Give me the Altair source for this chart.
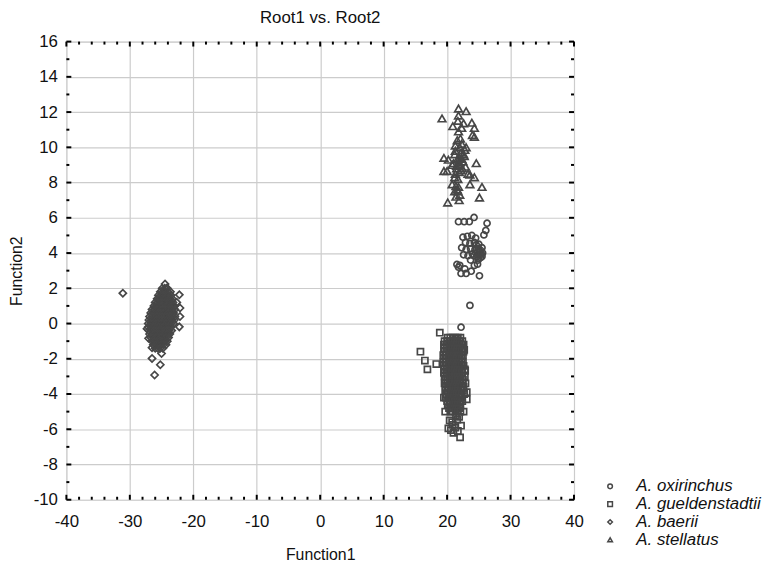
import altair as alt
import pandas as pd

species = ["A. oxirinchus", "A. gueldenstadtii", "A. baerii", "A. stellatus"]
shapes = ["circle", "square", "diamond", "triangle-up"]

# ---- A. oxirinchus (circles)
oxi_x = [21.8, 22.7, 23.5, 24.25, 26.3, 26.1, 25.8, 22.5, 23.2, 23.9, 24.5, 22.9, 23.6, 24.3,
         25.0, 22.3, 23.0, 23.7, 24.4, 25.1, 25.6, 22.6, 23.3, 24.0, 24.7, 25.3, 25.5, 24.9,
         23.7, 25.2, 24.8, 21.55, 21.8, 22.2, 23.0, 23.8, 25.1, 24.8, 23.6, 22.2, 22.0, 24.3,
         25.4, 24.6, 25.0, 24.2, 22.8, 25.3, 24.9, 25.5, 24.5]
oxi_y = [5.78, 5.78, 5.78, 6.02, 5.69, 5.28, 5.03, 4.9, 4.95, 5.0, 4.85, 4.6, 4.55, 4.6,
         4.5, 4.3, 4.2, 4.25, 4.2, 4.1, 4.0, 3.9, 3.85, 3.95, 3.8, 3.75, 4.3, 3.6,
         3.6, 3.9, 4.05, 3.35, 3.2, 2.84, 2.84, 2.97, 2.71, 3.37, 1.03, -0.21, 3.3, 3.3,
         3.95, 4.45, 3.7, 3.85, 3.1, 4.15, 4.25, 3.8, 4.0]

# ---- A. gueldenstadtii (squares): scattered points
gue_x = [18.85, 21.55, 15.8, 16.5, 16.9, 18.3, 22.7, 22.85, 23.1, 23.1, 22.6, 19.7, 22.2, 22.05,
         21.0, 20.2, 19.5, 20.4, 21.6, 20.9, 21.9, 20.6, 21.3, 21.7, 20.8, 21.4]
gue_y = [-0.52, -0.84, -1.6, -2.1, -2.6, -2.3, -1.5, -2.68, -3.9, -4.3, -5.0, -5.0, -5.8, -6.46,
         -6.2, -5.95, -4.2, -5.5, -5.45, -5.75, -5.3, -6.05, -5.9, -6.1, -5.6, -5.2]
# dense core, one list of Function1 values per Function2 row
gue_core_y = [-0.8, -1.0, -1.2, -1.4, -1.6, -1.8, -2.0, -2.2, -2.4, -2.6, -2.8, -3.0,
              -3.2, -3.4, -3.6, -3.8, -4.0, -4.2, -4.4, -4.6, -4.8, -5.0]
gue_core_x = [
    [20.1, 20.5, 20.9, 21.3, 21.7, 22.1],
    [19.6, 20.0, 20.4, 20.8, 21.2, 21.6, 22.0, 22.4],
    [19.5, 19.9, 20.3, 20.7, 21.1, 21.5, 21.9, 22.3, 22.6],
    [19.6, 20.0, 20.4, 20.8, 21.2, 21.6, 22.0, 22.4],
    [19.5, 19.9, 20.3, 20.7, 21.1, 21.5, 21.9, 22.3, 22.6],
    [19.4, 19.8, 20.2, 20.6, 21.0, 21.4, 21.8, 22.2, 22.5],
    [19.5, 19.9, 20.3, 20.7, 21.1, 21.5, 21.9, 22.3],
    [19.4, 19.8, 20.2, 20.6, 21.0, 21.4, 21.8, 22.2, 22.5],
    [19.5, 19.9, 20.3, 20.7, 21.1, 21.5, 21.9, 22.3, 22.6],
    [19.6, 20.0, 20.4, 20.8, 21.2, 21.6, 22.0, 22.4, 22.8],
    [19.5, 19.9, 20.3, 20.7, 21.1, 21.5, 21.9, 22.3],
    [19.6, 20.0, 20.4, 20.8, 21.2, 21.6, 22.0, 22.4, 22.8],
    [19.7, 20.1, 20.5, 20.9, 21.3, 21.7, 22.1, 22.5],
    [19.6, 20.0, 20.4, 20.8, 21.2, 21.6, 22.0, 22.4, 22.9],
    [19.8, 20.2, 20.6, 21.0, 21.4, 21.8, 22.2, 22.6],
    [19.7, 20.1, 20.5, 20.9, 21.3, 21.7, 22.1, 22.5],
    [19.9, 20.3, 20.7, 21.1, 21.5, 21.9, 22.3, 22.7],
    [19.8, 20.2, 20.6, 21.0, 21.4, 21.8, 22.2],
    [20.0, 20.4, 20.8, 21.2, 21.6, 22.0, 22.4],
    [20.1, 20.5, 20.9, 21.3, 21.7, 22.1],
    [20.3, 20.7, 21.1, 21.5, 21.9],
    [20.5, 20.9, 21.3, 21.7, 22.1],
]

# ---- A. baerii (diamonds): scattered points
bae_x = [-31.1, -24.45, -24.2, -22.2, -22.1, -22.1, -22.2, -27.05, -26.5, -26.5, -25.2,
         -26.1, -25.0, -27.3, -22.6]
bae_y = [1.72, 2.24, 2.0, 1.63, 0.88, 0.4, -0.19, -0.84, -1.37, -1.98, -2.34,
         -2.92, -1.7, -0.3, 1.2]
bae_core_y = [2.0, 1.8, 1.6, 1.4, 1.2, 1.0, 0.8, 0.6, 0.4, 0.2, 0.0, -0.2, -0.4, -0.6,
              -0.8, -1.0, -1.2, -1.4]
bae_core_x = [
    [-24.9, -24.5, -24.1],
    [-25.2, -24.8, -24.4, -24.0, -23.6],
    [-25.5, -25.1, -24.7, -24.3, -23.9, -23.5],
    [-25.7, -25.3, -24.9, -24.5, -24.1, -23.7, -23.3],
    [-26.0, -25.6, -25.2, -24.8, -24.4, -24.0, -23.6, -23.2],
    [-26.2, -25.8, -25.4, -25.0, -24.6, -24.2, -23.8, -23.4, -23.0],
    [-26.5, -26.1, -25.7, -25.3, -24.9, -24.5, -24.1, -23.7, -23.3, -22.9],
    [-26.7, -26.3, -25.9, -25.5, -25.1, -24.7, -24.3, -23.9, -23.5, -23.1],
    [-26.9, -26.5, -26.1, -25.7, -25.3, -24.9, -24.5, -24.1, -23.7, -23.3, -22.9],
    [-27.0, -26.6, -26.2, -25.8, -25.4, -25.0, -24.6, -24.2, -23.8, -23.4, -23.0],
    [-27.1, -26.7, -26.3, -25.9, -25.5, -25.1, -24.7, -24.3, -23.9, -23.5, -23.1],
    [-27.1, -26.7, -26.3, -25.9, -25.5, -25.1, -24.7, -24.3, -23.9, -23.5],
    [-27.0, -26.6, -26.2, -25.8, -25.4, -25.0, -24.6, -24.2, -23.8, -23.4],
    [-26.9, -26.5, -26.1, -25.7, -25.3, -24.9, -24.5, -24.1, -23.7],
    [-26.7, -26.3, -25.9, -25.5, -25.1, -24.7, -24.3, -23.9],
    [-26.5, -26.1, -25.7, -25.3, -24.9, -24.5, -24.1],
    [-26.3, -25.9, -25.5, -25.1, -24.7, -24.3],
    [-26.0, -25.6, -25.2, -24.8],
]

# ---- A. stellatus (triangles)
ste_x = [21.8, 23.0, 19.2, 21.8, 20.9, 22.6, 23.9, 24.3, 21.8, 22.3, 24.0, 24.3, 22.3, 21.3,
         22.8, 19.5, 20.2, 21.2, 21.6, 22.0, 21.5, 21.9, 22.4, 21.0, 24.6, 19.5, 20.0, 21.3,
         22.2, 22.9, 23.3, 23.6, 24.3, 20.8, 21.4, 21.7, 21.4, 21.9, 21.6, 23.6, 25.5, 25.1,
         20.1, 21.7, 22.1, 21.6, 22.0, 22.5, 21.3, 22.2, 20.8, 22.7, 23.0, 22.0, 21.2, 21.7,
         22.0, 21.2, 21.9, 22.3, 21.5, 21.8, 22.6]
ste_y = [12.2, 12.05, 11.64, 11.8, 11.2, 11.36, 11.4, 11.1, 10.9, 11.1, 10.7, 10.6, 10.2, 10.1,
         9.85, 9.4, 9.3, 9.6, 9.3, 9.0, 8.8, 8.6, 8.8, 9.1, 9.1, 8.65, 8.65, 8.5,
         8.7, 8.9, 8.5, 8.45, 8.3, 7.9, 7.8, 7.5, 7.2, 7.0, 7.6, 7.9, 7.75, 7.15,
         6.87, 11.5, 10.5, 10.4, 9.4, 9.2, 9.8, 9.7, 9.0, 9.5, 10.0, 10.0, 8.3, 8.2,
         7.3, 7.5, 9.15, 9.35, 8.95, 7.75, 9.6]

x_major = [-40, -30, -20, -10, 0, 10, 20, 30, 40]
x_minor = [-38, -36, -34, -32, -28, -26, -24, -22, -18, -16, -14, -12, -8, -6, -4, -2,
           2, 4, 6, 8, 12, 14, 16, 18, 22, 24, 26, 28, 32, 34, 36, 38]
y_major = [-10, -8, -6, -4, -2, 0, 2, 4, 6, 8, 10, 12, 14, 16]
y_minor = [-9, -7, -5, -3, -1, 1, 3, 5, 7, 9, 11, 13, 15]

W, H = 513, 463
FONT = "Liberation Sans"
INK = "#111111"
MARK = "#474747"


def table(sp, xs_, ys_, core_y=None, core_x=None):
    rows = [{"species": sp, "f1": a, "f2": b} for a, b in zip(xs_, ys_)]
    if core_y is not None:
        for yv, row in zip(core_y, core_x):
            rows += [{"species": sp, "f1": a, "f2": yv} for a in row]
    return pd.DataFrame(rows)


d_oxi = table(species[0], oxi_x, oxi_y)
d_gue = table(species[1], gue_x, gue_y, gue_core_y, gue_core_x)
d_bae = table(species[2], bae_x, bae_y, bae_core_y, bae_core_x)
d_ste = table(species[3], ste_x, ste_y)

xs = alt.Scale(domain=[-40, 40], nice=False, zero=False)
ys = alt.Scale(domain=[-10, 16], nice=False, zero=False)
shape_scale = alt.Scale(domain=species, range=shapes)

axis_common = dict(grid=True, gridColor="#cccccc", gridWidth=1.2, ticks=False, domain=False,
                   labelFontSize=17, labelFont=FONT, labelColor=INK, labelOverlap=False,
                   labelFlush=False, labelExpr="'' + datum.value",
                   titleFont=FONT, titleFontSize=16, titleFontWeight="normal", titleColor=INK)
x_axis = alt.Axis(values=x_major, labelPadding=14, titlePadding=17, **axis_common)
y_axis = alt.Axis(values=y_major, labelPadding=9, titlePadding=9, **axis_common)


def X(field):
    return alt.X(field, scale=xs, title="Function1", axis=x_axis)


def Y(field):
    return alt.Y(field, scale=ys, title="Function2", axis=y_axis)


legend = alt.Legend(title=None, orient="none", legendX=541, legendY=441,
                    labelFont=FONT, labelFontSize=17, labelFontStyle="italic",
                    labelColor=INK, symbolStrokeWidth=1.5, symbolSize=22,
                    symbolStrokeColor=MARK, symbolFillColor="transparent",
                    rowPadding=0, labelOffset=18, padding=0)


def layer(d, size):
    return alt.Chart(d).mark_point(filled=False, strokeWidth=1.7, size=size, opacity=1,
                                   color=MARK).encode(
        x=X("f1:Q"), y=Y("f2:Q"),
        shape=alt.Shape("species:N", scale=shape_scale, legend=legend))


tick_style = dict(color="black", strokeWidth=2)


def xticks(vals, L):
    d = pd.DataFrame({"v": vals})
    bot = alt.Chart(d).mark_rule(**tick_style).encode(
        x=X("v:Q"), y=alt.value(H), y2=alt.value(H - L))
    top = alt.Chart(d).mark_rule(**tick_style).encode(
        x=X("v:Q"), y=alt.value(0), y2=alt.value(L))
    return bot + top


def yticks(vals, L):
    d = pd.DataFrame({"v": vals})
    lft = alt.Chart(d).mark_rule(**tick_style).encode(
        y=Y("v:Q"), x=alt.value(0), x2=alt.value(L))
    rgt = alt.Chart(d).mark_rule(**tick_style).encode(
        y=Y("v:Q"), x=alt.value(W), x2=alt.value(W - L))
    return lft + rgt


chart = alt.layer(
    layer(d_oxi, 38),
    layer(d_gue, 38),
    layer(d_bae, 52),
    layer(d_ste, 60),
    xticks(x_major, 5), xticks(x_minor, 3),
    yticks(y_major, 5), yticks(y_minor, 3),
).properties(
    width=W, height=H,
    title=alt.Title("Root1 vs. Root2", font=FONT, fontSize=17, fontWeight="normal",
                    color=INK, anchor="middle", offset=6),
    autosize=alt.AutoSizeParams(type="none"),
    padding={"left": 59, "top": 31, "right": 190, "bottom": 62},
).configure_view(
    stroke="black", strokeWidth=2
).configure(background="white")

chart.save("out.html", embed_options={"renderer": "svg", "actions": False})
